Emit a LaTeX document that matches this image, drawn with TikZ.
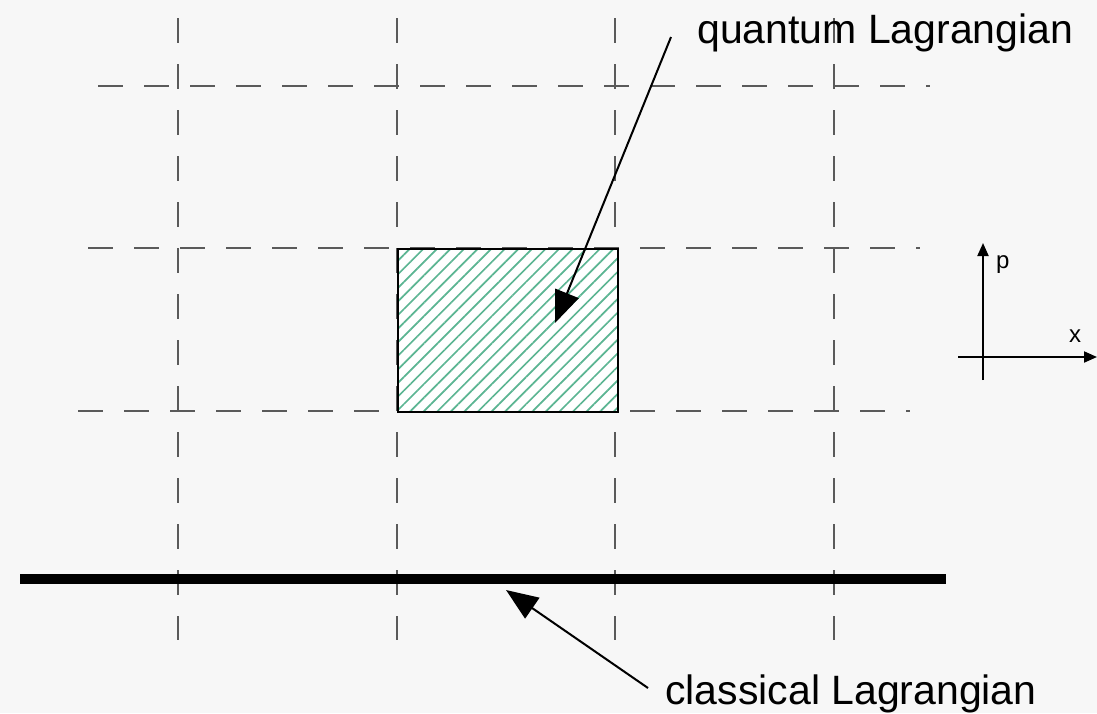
\documentclass[tikz,border=0pt]{standalone}
\usepackage{fontspec}
\setmainfont{Liberation Sans}
\usetikzlibrary{arrows.meta,patterns.meta}
\definecolor{bg}{HTML}{F7F7F7}
\definecolor{gridc}{HTML}{5A5A5A}
\definecolor{hatch}{HTML}{5BB592}
\begin{document}
\begin{tikzpicture}[x=1pt,y=-1pt,
  gridline/.style={draw=gridc,line width=1.2pt,dash pattern=on 25pt off 21pt},
  ptr/.style={draw=black,line width=2pt,-{Triangle[length=32pt,width=25pt]}},
  axisline/.style={draw=black,line width=2pt,-{Triangle[length=13pt,width=11pt]}},
  lbl/.style={font=\fontsize{41}{49}\selectfont,inner sep=0pt},
  smalllbl/.style={font=\fontsize{24}{28}\selectfont,inner sep=0pt},
  hatchbox/.style={draw=black,line width=2pt,minimum width=220pt,minimum height=163pt,inner sep=0pt,
    pattern={Lines[angle=45,distance=9.6pt,line width=1.7pt]},pattern color=hatch}]
\fill[bg] (0,0) rectangle (1097,713);
\useasboundingbox (0,0) rectangle (1097,713);
% grid
\foreach \x in {178,397,615,834} \draw[gridline] (\x,18) -- (\x,640);
\draw[gridline] (98,86) -- (930,86);
\draw[gridline] (88,248) -- (920,248);
\draw[gridline] (78,411) -- (910,411);
% hatched box
\fill[white] (397,248) rectangle (617,411);
\node[hatchbox,anchor=north west] (box) at (397,248) {};
% classical line
\coordinate (cl1) at (20,579);
\coordinate (cl2) at (946,579);
\draw[line width=10pt] (cl1) -- (cl2);
% labels
\node[lbl,anchor=base west] (qlab) at (697,43) {quantum Lagrangian};
\node[lbl,anchor=base west] (clab) at (665,704) {classical Lagrangian};
% pointers
\coordinate (qs) at (671,37);
\coordinate (qt) at (555,323);
\draw[ptr] (qs) -- (qt);
\coordinate (cs) at (648,688);
\coordinate (ct) at (506,590);
\draw[ptr] (cs) -- (ct);
% axes
\coordinate (pa) at (983,380);
\coordinate (pb) at (983,243);
\coordinate (xa) at (958,357);
\coordinate (xb) at (1097,357);
\draw[axisline] (pa) -- (pb);
\draw[axisline] (xa) -- (xb);
\node[smalllbl,anchor=base west] (plab) at (996,268) {p};
\node[smalllbl,anchor=base west] (xlab) at (1069,342) {x};
\end{tikzpicture}
\end{document}
